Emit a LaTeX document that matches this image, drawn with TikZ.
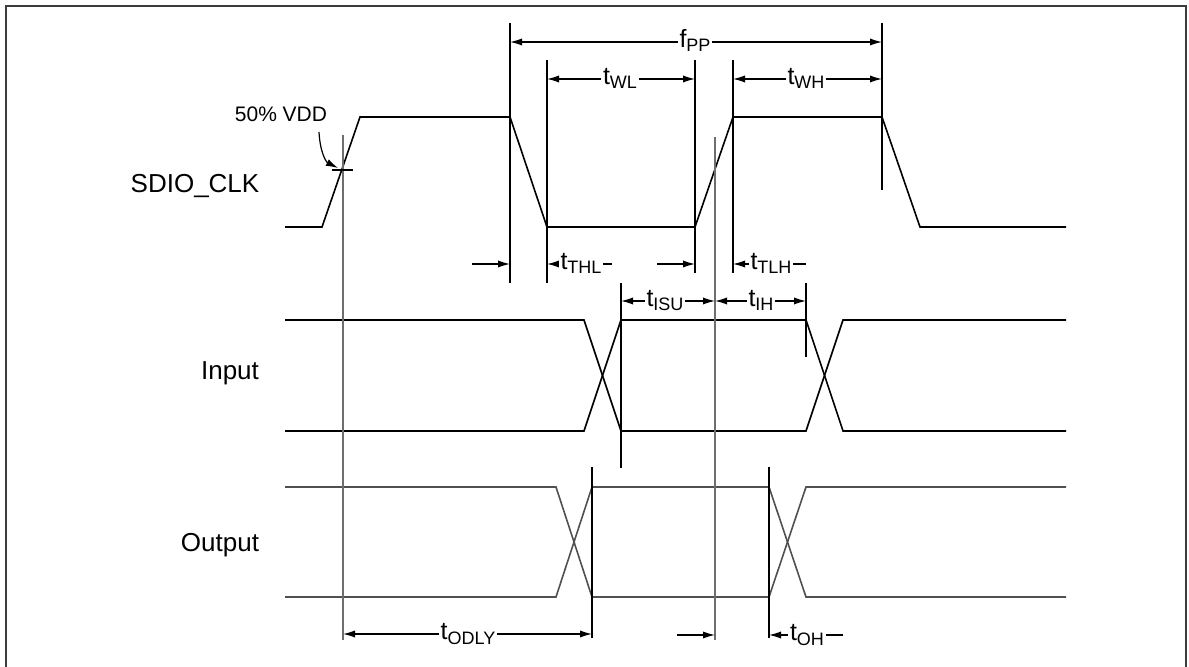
\documentclass[tikz,border=0pt]{standalone}
\usepackage{fontspec}
\setmainfont{Liberation Sans}
\usetikzlibrary{arrows.meta}
\definecolor{frameline}{RGB}{60,60,60}
\definecolor{outline}{RGB}{80,80,80}
\definecolor{refline}{RGB}{110,110,110}
\newcommand{\tlab}[2]{#1\raisebox{-2pt}{\fontsize{9}{10}\selectfont #2}}

\begin{document}
\begin{tikzpicture}[x=0.5pt,y=-0.5pt,
    sig/.style={line width=0.8pt,line join=miter},
    outsig/.style={sig,draw=outline},
    ext/.style={line width=0.6pt},
    refl/.style={line width=0.6pt,draw=refline},
    dimboth/.style={line width=0.6pt,{Latex[length=6pt,width=3.6pt]}-{Latex[length=6pt,width=3.6pt]}},
    dimto/.style={line width=0.6pt,-{Latex[length=6pt,width=3.6pt]}},
    lbl/.style={fill=white,inner sep=1pt,anchor=base,font=\fontsize{12.5}{14}\selectfont},
    signame/.style={font=\fontsize{13}{15}\selectfont}]
  \useasboundingbox (0,0) rectangle (1189,667);
  % frame
  \draw[frameline,line width=1pt] (6,667) -- (6,6) -- (1186,6) -- (1186,667);

  % signal names
  \node[signame] (clk) at (195,186) {SDIO\_CLK};
  \node[signame] (inp) at (230,373) {Input};
  \node[signame] (outp) at (220,545) {Output};

  % clock
  \draw[sig] (285,227) -- (322,227) -- (360,117) -- (510,117) -- (547,227)
    -- (695,227) -- (733,117) -- (882,117) -- (920,227) -- (1066,227);
  % input
  \draw[sig] (285,320) -- (584,320) -- (621,431) -- (806,431) -- (843,320) -- (1066,320);
  \draw[sig] (285,431) -- (584,431) -- (621,320) -- (806,320) -- (843,431) -- (1066,431);
  % output
  \draw[outsig] (285,487) -- (556,487) -- (592,597) -- (769,597) -- (806,487) -- (1066,487);
  \draw[outsig] (285,597) -- (556,597) -- (592,487) -- (769,487) -- (806,597) -- (1066,597);

  % extension lines
  \draw[ext] (510,23) -- (510,283);
  \draw[ext] (547,60) -- (547,283);
  \draw[ext] (695,60) -- (695,273);
  \draw[ext] (733,60) -- (733,273);
  \draw[ext] (882,23) -- (882,190);
  \draw[ext] (621,283) -- (621,468);
  \draw[ext] (806,283) -- (806,357);
  \draw[ext] (592,467) -- (592,638);
  \draw[ext] (769,467) -- (769,638);
  \draw[refl] (343,135) -- (343,640);
  \draw[refl] (715,137) -- (715,640);

  % 50% VDD
  \draw[ext] (332,170) -- (353,170);
  \node[font=\fontsize{10.5}{12}\selectfont] (vdd) at (281,114) {50\% VDD};
  \coordinate (half) at (338,168);
  \draw[ext,-{Latex[length=6pt,width=3.6pt]}] (319,132) .. controls (320,152) and (326,162) .. (half);

  % timing parameters
  \draw[dimboth] (510,42) -- (882,42);
  \node[lbl] (fpp) at (695,48) {\tlab{f}{PP}};
  \draw[dimboth] (547,79) -- (695,79);
  \node[lbl] (twl) at (620,85) {\tlab{t}{WL}};
  \draw[dimboth] (733,79) -- (882,79);
  \node[lbl] (twh) at (806,85) {\tlab{t}{WH}};

  \draw[dimto] (472,264) -- (510,264);
  \draw[dimto] (612,264) -- (547,264);
  \node[lbl] (tthl) at (581,270) {\tlab{t}{THL}};
  \draw[dimto] (657,264) -- (695,264);
  \draw[dimto] (806,264) -- (733,264);
  \node[lbl] (ttlh) at (771,270) {\tlab{t}{TLH}};

  \draw[dimboth] (621,301) -- (715,301);
  \node[lbl] (tisu) at (665,307) {\tlab{t}{ISU}};
  \draw[dimboth] (715,301) -- (806,301);
  \node[lbl] (tih) at (761,307) {\tlab{t}{IH}};

  \draw[dimboth] (343,634) -- (592,634);
  \node[lbl] (todly) at (468,640) {\tlab{t}{ODLY}};
  \draw[dimto] (677,635) -- (715,635);
  \draw[dimto] (843,635) -- (769,635);
  \node[lbl] (toh) at (807,641) {\tlab{t}{OH}};
\end{tikzpicture}
\end{document}
